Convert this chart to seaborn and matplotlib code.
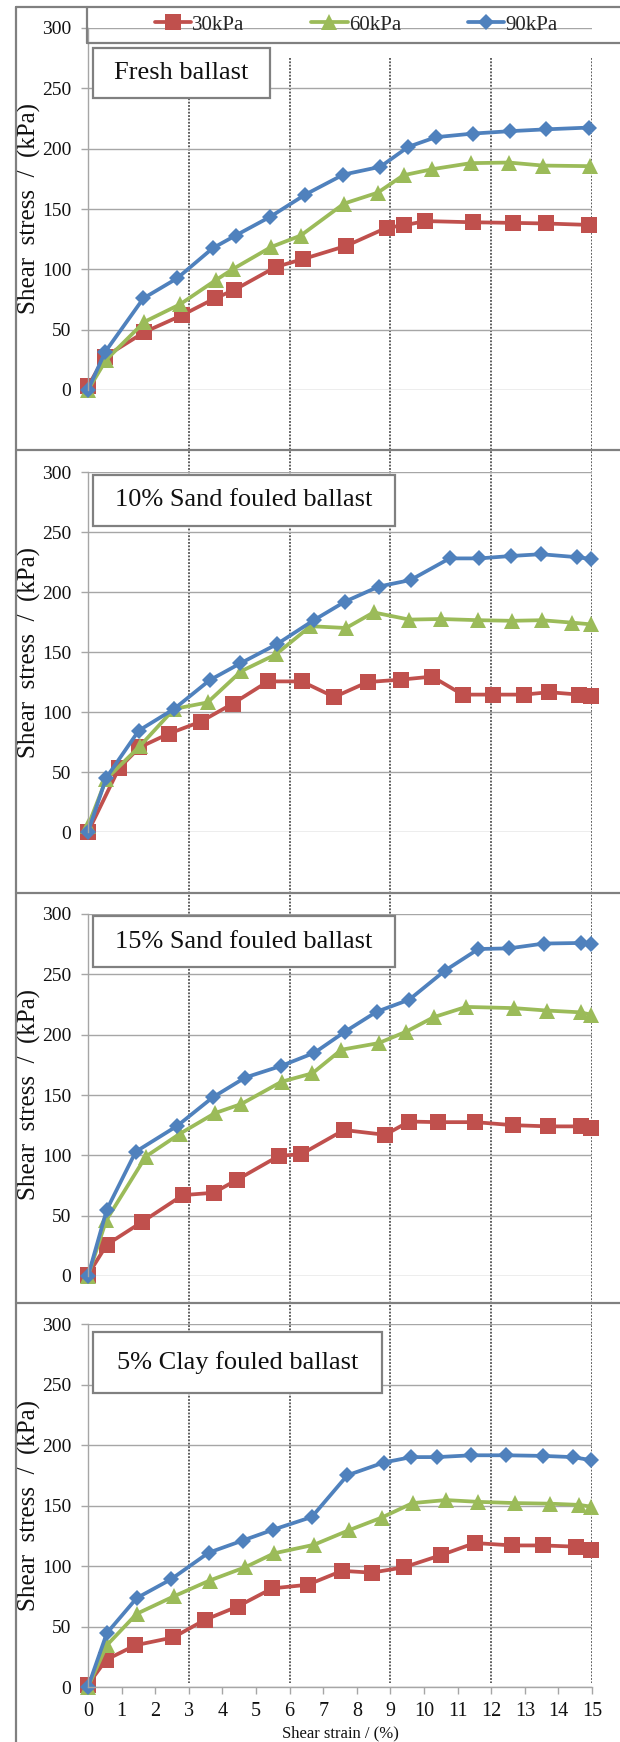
import numpy as np
import pandas as pd
import matplotlib
matplotlib.use("Agg")
import matplotlib.pyplot as plt
from matplotlib.patches import Rectangle
from matplotlib.lines import Line2D
import seaborn as sns

# ---------------- data ----------------
loads = ["30kPa", "60kPa", "90kPa"]
panel_titles = ["Fresh ballast", "10% Sand fouled ballast",
                "15% Sand fouled ballast", "5% Clay fouled ballast"]
x_ticks = list(range(0, 16))
y_ticks = [0, 50, 100, 150, 200, 250, 300]
strain_guides = [3, 6, 9, 12, 15]

fresh_x30 = [0, 0.5, 1.68, 2.8, 3.78, 4.36, 5.59, 6.4, 7.69, 8.89, 9.41, 10.04, 11.45, 12.66, 13.62, 14.92]
fresh_y30 = [3, 27.5, 48, 62, 76, 83, 102, 108.5, 119.5, 134.5, 136.5, 140, 139, 138.5, 138, 136.8]
fresh_x60 = [0, 0.54, 1.68, 2.74, 3.8, 4.33, 5.45, 6.33, 7.62, 8.62, 9.39, 10.25, 11.39, 12.53, 13.53, 14.95]
fresh_y60 = [0, 25, 56.5, 71, 91, 100.5, 118.5, 128, 154.5, 163.5, 178, 183, 188, 188.5, 186, 185.5]
fresh_x90 = [0, 0.51, 1.65, 2.65, 3.71, 4.39, 5.42, 6.47, 7.6, 8.7, 9.53, 10.35, 11.45, 12.56, 13.62, 14.92]
fresh_y90 = [0, 31.5, 76, 92.5, 117.5, 128, 143.5, 162, 178.5, 185, 201.5, 209.5, 212.5, 214.5, 216, 217.5]

sand10_x30 = [0, 0.92, 1.53, 2.41, 3.36, 4.31, 5.36, 6.36, 7.33, 8.33, 9.33, 10.24, 11.15, 12.04, 12.98, 13.72, 14.62, 14.98]
sand10_y30 = [0, 53, 70.5, 82, 92, 107, 125.5, 125.5, 112.5, 125, 127, 129.5, 114.5, 114.5, 114.5, 116.5, 114.5, 113.5]
sand10_x60 = [0, 0.54, 1.56, 2.56, 3.56, 4.56, 5.59, 6.62, 7.68, 8.5, 9.56, 10.5, 11.62, 12.62, 13.5, 14.39, 14.98]
sand10_y60 = [5, 44, 72, 102.5, 108, 134, 148, 171.5, 170, 183, 177, 177.5, 176.5, 176, 176.5, 174.5, 173]
sand10_x90 = [0, 0.54, 1.51, 2.56, 3.62, 4.53, 5.62, 6.72, 7.65, 8.65, 9.6, 10.76, 11.65, 12.59, 13.48, 14.56, 14.98]
sand10_y90 = [0, 45, 84.5, 102.5, 126.5, 140.5, 156.5, 176.5, 192, 204.5, 210, 228, 228, 230, 231.5, 229, 227.5]

sand15_x30 = [0, 0.56, 1.62, 2.82, 3.74, 4.42, 5.68, 6.35, 7.62, 8.84, 9.56, 10.41, 11.53, 12.65, 13.7, 14.66, 14.98]
sand15_y30 = [1, 26, 45, 67, 69, 79.5, 99.5, 101, 121, 117, 128, 127.5, 127.5, 125, 124, 124, 122.5]
sand15_x60 = [0, 0.54, 1.72, 2.74, 3.78, 4.56, 5.76, 6.68, 7.54, 8.65, 9.47, 10.29, 11.25, 12.68, 13.65, 14.66, 14.98]
sand15_y60 = [0, 46, 99, 118, 135, 142.5, 161, 168, 187.5, 193, 202.5, 214.5, 223, 222, 220, 218.5, 216.5]
sand15_x90 = [0, 0.56, 1.42, 2.66, 3.71, 4.68, 5.74, 6.74, 7.65, 8.59, 9.56, 10.62, 11.62, 12.53, 13.56, 14.66, 14.98]
sand15_y90 = [0, 55, 103, 124.5, 148, 164.5, 174, 185, 202.5, 219, 229, 253, 271, 271.5, 275.5, 276, 275.5]

clay5_x30 = [0, 0.54, 1.41, 2.54, 3.48, 4.45, 5.48, 6.54, 7.56, 8.45, 9.41, 10.51, 11.51, 12.62, 13.53, 14.51, 14.98]
clay5_y30 = [2, 22.5, 34.5, 41, 55.5, 66.5, 81.5, 84.5, 96, 94.5, 99, 109, 119, 117, 117, 116, 113.5]
clay5_x60 = [0, 0.56, 1.45, 2.56, 3.62, 4.68, 5.54, 6.72, 7.76, 8.74, 9.66, 10.65, 11.62, 12.71, 13.76, 14.62, 14.98]
clay5_y60 = [0, 34.5, 60.5, 75, 88, 99, 110.5, 117.5, 129.5, 140, 152, 154.5, 153, 152, 151.5, 150.5, 149]
clay5_x90 = [0, 0.56, 1.45, 2.47, 3.59, 4.6, 5.51, 6.66, 7.72, 8.8, 9.62, 10.39, 11.41, 12.45, 13.53, 14.42, 14.98]
clay5_y90 = [0, 44.5, 73.5, 89, 111, 121, 130, 140.5, 175, 185.5, 190, 190, 191.5, 191.5, 191, 190, 187.5]

panels_data = [
    [(fresh_x30, fresh_y30), (fresh_x60, fresh_y60), (fresh_x90, fresh_y90)],
    [(sand10_x30, sand10_y30), (sand10_x60, sand10_y60), (sand10_x90, sand10_y90)],
    [(sand15_x30, sand15_y30), (sand15_x60, sand15_y60), (sand15_x90, sand15_y90)],
    [(clay5_x30, clay5_y30), (clay5_x60, clay5_y60), (clay5_x90, clay5_y90)],
]

# ---------------- style ----------------
sns.set_theme(style="white")
plt.rcParams["font.family"] = ["Liberation Serif", "DejaVu Serif"]

colors = {"30kPa": "#C0504D", "60kPa": "#9BBB59", "90kPa": "#4F81BD"}
markers = {"30kPa": "s", "60kPa": "^", "90kPa": "D"}
msizes = {"30kPa": 11, "60kPa": 11.5, "90kPa": 8.5}
GRID = "#A6A6A6"
FRAME = "#808080"

W, H = 620, 1742
fig = plt.figure(figsize=(W / 100, H / 100), dpi=100)


def fx(p):
    return p / W


def fy(p):
    return 1 - p / H


L, R = 88, 592
panel_px = [(28, 390), (472, 832), (914, 1276), (1324, 1687)]
label_boxes = [(93, 48, 270, 98), (93, 475, 395, 526), (93, 916, 395, 967), (93, 1332, 382, 1393)]

# overlay with dotted vertical guides spanning all panels
ov = fig.add_axes([fx(L), 0, fx(R) - fx(L), 1], zorder=0.5)
ov.set_xlim(0, 15)
ov.set_ylim(H, 0)
ov.axis("off")
ov.vlines(strain_guides, 58, 1683, colors="#333333", linestyles=(0, (1.2, 1.0)), lw=1.1)

axes = []
for i, ((T, B), title, series) in enumerate(zip(panel_px, panel_titles, panels_data)):
    ax = fig.add_axes([fx(L), fy(B), fx(R) - fx(L), (B - T) / H], zorder=1)
    ax.set_facecolor("none")
    frames = []
    for load, (xs, ys) in zip(loads, series):
        frames.append(pd.DataFrame({"strain": xs, "stress": ys, "load": load}))
    df = pd.concat(frames, ignore_index=True)
    sns.lineplot(data=df, x="strain", y="stress", hue="load", style="load",
                 hue_order=loads, style_order=loads, palette=colors,
                 markers=markers, dashes=False, estimator=None, sort=False,
                 lw=2.7, markeredgewidth=0, clip_on=False, legend=False, ax=ax)
    for line, load in zip(ax.get_lines(), loads):
        line.set_markersize(msizes[load])
        line.set_solid_joinstyle("round")
    ax.set_xlim(0, 15)
    ax.set_ylim(0, 300)
    ax.set_yticks(y_ticks)
    ax.grid(axis="y", color=GRID, lw=1.0)
    ax.grid(axis="x", visible=False)
    ax.set_axisbelow(True)
    for s in ["top", "right", "bottom"]:
        ax.spines[s].set_visible(False)
    ax.spines["left"].set_color(GRID)
    ax.spines["left"].set_linewidth(1.0)
    ax.tick_params(axis="y", left=True, length=5, width=1.0, color=GRID,
                   pad=7, labelsize=14, labelcolor="#111111")
    ax.set_ylabel("Shear  stress  /  (kPa)", fontsize=18, va="center", color="#111111")
    ax.yaxis.set_label_coords((29 - L) / (R - L), 0.5)
    ax.set_xticks(x_ticks)
    if i == 3:
        ax.spines["bottom"].set_visible(True)
        ax.spines["bottom"].set_color(GRID)
        ax.spines["bottom"].set_linewidth(1.0)
        ax.tick_params(axis="x", bottom=True, length=5, width=1.0, color=GRID,
                       pad=6, labelsize=14.5, labelcolor="#111111")
    else:
        ax.tick_params(axis="x", bottom=False, labelbottom=False)
    ax.set_xlabel("")
    axes.append(ax)

    # panel label box
    x0, y0, x1, y1 = label_boxes[i]
    fig.add_artist(Rectangle((fx(x0), fy(y1)), fx(x1) - fx(x0), (y1 - y0) / H,
                             transform=fig.transFigure, facecolor="white",
                             edgecolor=FRAME, lw=1.6, zorder=3))
    fig.text(fx((x0 + x1) / 2), fy((y0 + y1) / 2), title, ha="center", va="center",
             fontsize=19, color="#111111", zorder=4)

fig.text(fx(340), fy(1733), "Shear strain / (%)", ha="center", va="center",
         fontsize=12, color="#111111")

# outer frame, separators, legend frame
def hline(y, xa, xb):
    fig.add_artist(Line2D([fx(xa), fx(xb)], [fy(y), fy(y)], transform=fig.transFigure,
                          color=FRAME, lw=1.6, zorder=2))


def vline(x, ya, yb):
    fig.add_artist(Line2D([fx(x), fx(x)], [fy(ya), fy(yb)], transform=fig.transFigure,
                          color=FRAME, lw=1.6, zorder=2))


vline(16, 7, H)
hline(7, 16, W)
for ysep in (450, 893, 1303):
    hline(ysep, 16, W)
vline(87, 7, 43)
hline(43, 87, W)

handles = axes[0].get_lines()[:3]
fig.legend(handles, loads, loc="center", bbox_to_anchor=(fx(356), fy(25)), ncol=3,
           frameon=False, fontsize=15, handlelength=1.75, handletextpad=0.05,
           columnspacing=3.2, borderpad=0, borderaxespad=0)

fig.savefig("out.png", dpi=100)
